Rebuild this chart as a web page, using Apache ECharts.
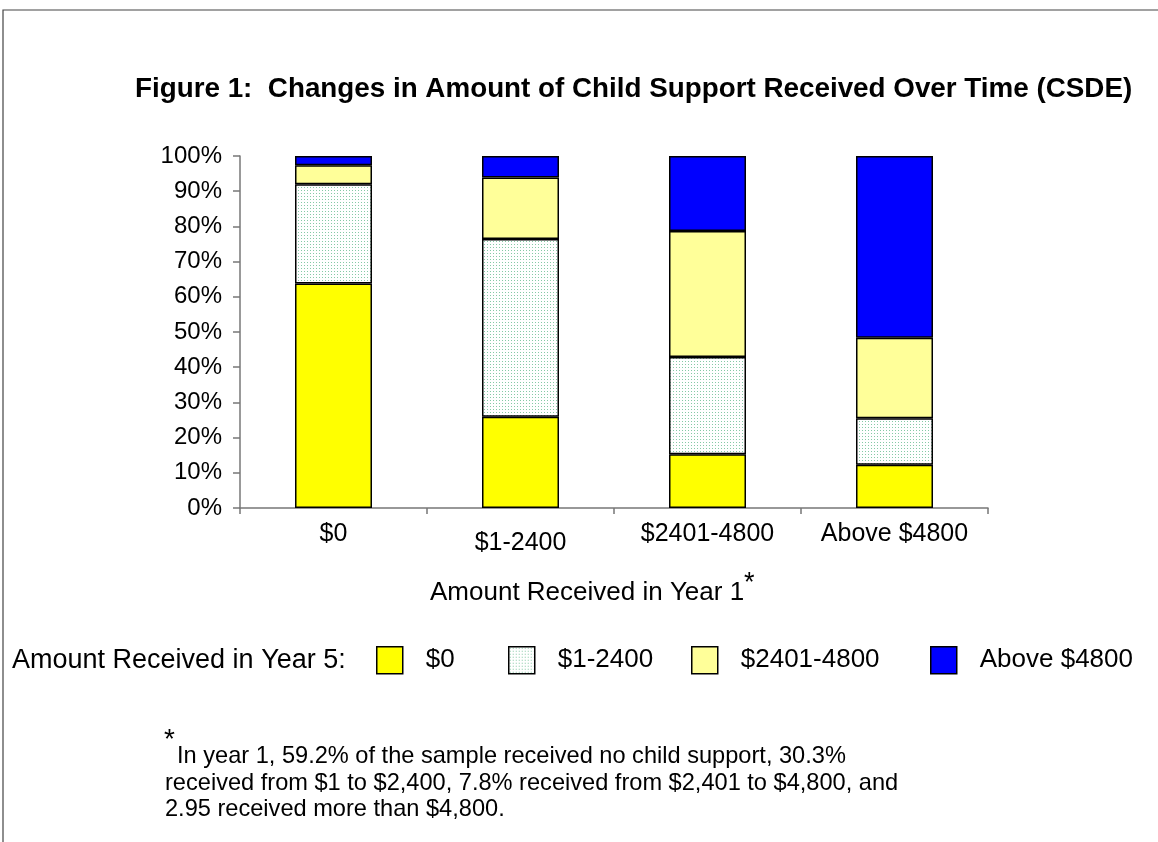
<!DOCTYPE html>
<html>
<head>
<meta charset="utf-8">
<title>Figure 1: Changes in Amount of Child Support Received Over Time (CSDE)</title>
<script src="https://cdn.jsdelivr.net/npm/echarts@6/dist/echarts.min.js"></script>
<style>
  html, body { margin: 0; padding: 0; background: #fff; }
  #chart { width: 1158px; height: 842px; }
</style>
</head>
<body>
<div id="chart"></div>
<script>
// 第一年收到的金额（横轴分类）
var categories = ['$0', '$1-2400', '$2401-4800', 'Above $4800'];
// 第五年收到的金额（堆叠系列名）
var seriesNames = ['$0', '$1-2400', '$2401-4800', 'Above $4800'];
// 各系列百分比，按分类顺序
var year5Zero = [63.8, 25.9, 15.3, 12.3];
var year5Low = [28.2, 50.5, 27.6, 13.2];
var year5Mid = [5.4, 17.5, 35.8, 22.9];
var year5High = [2.6, 6.1, 21.3, 51.6];
// 纵轴刻度
var yTicks = { min: 0, max: 100, interval: 10 };

var FONT = '"Liberation Sans", Arial, sans-serif';

// 点状填充
function dotPattern() {
  var c = document.createElement('canvas');
  c.width = 3;
  c.height = 3;
  var ctx = c.getContext('2d');
  ctx.fillStyle = '#ffffff';
  ctx.fillRect(0, 0, 3, 3);
  ctx.fillStyle = '#86c9a6';
  ctx.fillRect(1, 1, 1, 1);
  return c;
}

var fills = ['#ffff00', { image: dotPattern(), repeat: 'repeat' }, '#ffff99', '#0000ff'];
var values = [year5Zero, year5Low, year5Mid, year5High];
var legendLeft = [376, 508, 691, 930];

function txt(text, left, top, size, extra) {
  var style = { fontFamily: FONT, fontSize: size, fontWeight: 'normal', color: '#000' };
  if (extra) {
    for (var k in extra) style[k] = extra[k];
  }
  return { text: text, left: left, top: top, padding: 0, textStyle: style };
}

var chart = echarts.init(document.getElementById('chart'));

var option = {
  backgroundColor: '#fff',
  animation: false,
  textStyle: { fontFamily: FONT, color: '#000' },
  title: [
    txt('Figure 1:  Changes in Amount of Child Support Received Over Time (CSDE)', 135, 75, 27.8, { fontWeight: 'bold' }),
    txt('Amount Received in Year 1', 430, 580, 26),
    txt('*', 744, 570, 27),
    txt('Amount Received in Year 5:', 12, 647, 27),
    txt('*', 164, 726, 28),
    txt('In year 1, 59.2% of the sample received no child support, 30.3%', 177, 744, 23.6),
    txt('received from $1 to $2,400, 7.8% received from $2,401 to $4,800, and\n' +
        '2.95 received more than $4,800.', 165, 770, 23.6, { lineHeight: 26 })
  ],
  legend: seriesNames.map(function (name, i) {
    return {
      data: [name],
      left: legendLeft[i],
      top: 646,
      padding: 0,
      icon: 'rect',
      itemWidth: 26,
      itemHeight: 27,
      itemGap: 0,
      selectedMode: false,
      itemStyle: { borderColor: '#000', borderWidth: 1.5 },
      textStyle: { fontFamily: FONT, fontSize: 26, color: '#000', padding: [0, 0, 0, 18] }
    };
  }),
  grid: { left: 240, right: 170, top: 156, bottom: 334, containLabel: false },
  xAxis: {
    type: 'category',
    data: categories,
    axisLine: { lineStyle: { color: '#777', width: 1.5 } },
    axisTick: { show: true, length: 6, lineStyle: { color: '#777', width: 1.5 } },
    axisLabel: {
      interval: 0,
      fontFamily: FONT,
      fontSize: 25,
      color: '#000',
      margin: 14,
      formatter: function (v, i) {
        return i === 1 ? '{low|' + v + '}' : v;
      },
      rich: { low: { fontFamily: FONT, fontSize: 25, color: '#000', padding: [9, 0, 0, 0] } }
    }
  },
  yAxis: {
    type: 'value',
    min: yTicks.min,
    max: yTicks.max,
    interval: yTicks.interval,
    axisLine: { show: true, lineStyle: { color: '#777', width: 1.5 } },
    axisTick: { show: true, length: 7, lineStyle: { color: '#777', width: 1.5 } },
    splitLine: { show: false },
    axisLabel: { fontFamily: FONT, fontSize: 24, color: '#000', margin: 18, formatter: '{value}%' }
  },
  series: seriesNames.map(function (name, i) {
    return {
      name: name,
      type: 'bar',
      stack: 'year5',
      barWidth: 77,
      data: values[i],
      itemStyle: { color: fills[i], borderColor: '#000', borderWidth: 1.5 }
    };
  }),
  graphic: [{
    type: 'polyline',
    shape: { points: [[3, 842], [3, 10], [1158, 10]] },
    style: { stroke: '#444', lineWidth: 1.2, fill: null },
    silent: true
  }]
};

chart.setOption(option);
</script>
</body>
</html>
